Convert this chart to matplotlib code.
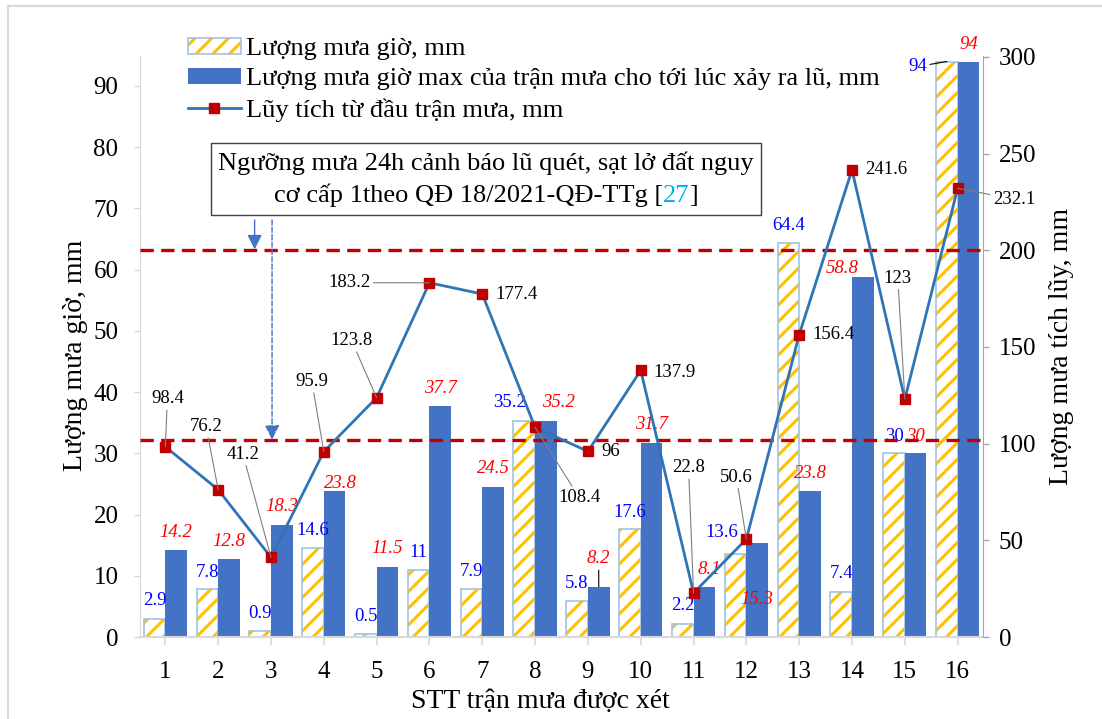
import matplotlib.pyplot as plt
import numpy as np
from matplotlib.patches import Patch, Rectangle
from matplotlib.lines import Line2D
from matplotlib.transforms import Bbox

plt.rcParams['font.family'] = ['Liberation Serif', 'DejaVu Serif']
plt.rcParams['hatch.linewidth'] = 2.2

# data
storms = np.arange(1, 17)
rain_hour = [2.9, 7.8, 0.9, 14.6, 0.5, 11, 7.9, 35.2, 5.8, 17.6, 2.2, 13.6, 64.4, 7.4, 30, 94]
rain_max = [14.2, 12.8, 18.3, 23.8, 11.5, 37.7, 24.5, 35.2, 8.2, 31.7, 8.1, 15.3, 23.8, 58.8, 30, 94]
rain_cum = [98.4, 76.2, 41.2, 95.9, 123.8, 183.2, 177.4, 108.4, 96, 137.9, 22.8, 50.6, 156.4, 241.6, 123, 232.1]
thresholds = [102, 200]

lbl_hour = "Lượng mưa giờ, mm"
lbl_max = "Lượng mưa giờ max của trận mưa cho tới lúc xảy ra lũ, mm"
lbl_cum = "Lũy tích từ đầu trận mưa, mm"
note_1 = "Ngưỡng mưa 24h cảnh báo lũ quét, sạt lở đất nguy"
note_2 = ["cơ cấp 1theo QĐ 18/2021-QĐ-TTg [", "27", "]"]

# label offsets in pixels (dx, dy)
hour_off = [(0, 19), (0, 17), (0, 18), (0, 17), (0, 17), (0, 17), (0, 17), (-15, 19),
            (0, 18), (0, 17), (0, 18), (-14, 21), (0, 17), (0, 18), (0, 17), (-29, -5)]
max_off = [(0, 18), (0, 17), (0, 18), (6, 8), (0, 18), (0, 18), (0, 19), (13, 19),
           (0, 28), (0, 18), (5, 18), (0, -56), (0, 18), (-21, 9), (0, 17), (0, 17)]
cum_off = [(2, 48, 'center', True), (-12, 63, 'center', True), (-28, 103, 'center', True),
           (-12, 70, 'center', True), (-25, 57, 'center', True), (-80, 0, 'center', True),
           (13, 0, 'left', False), (44, -70, 'center', True), (13, 0, 'left', False),
           (13, -2, 'left', False), (-5, 125, 'center', True), (-10, 62, 'center', True),
           (13, 0, 'left', False), (13, 0, 'left', False), (-7, 121, 'center', True),
           (35, -11, 'left', True)]

W, H = 1102, 719
fig = plt.figure(figsize=(W / 100, H / 100), dpi=100)
ax = fig.add_axes([140 / W, 1 - 637 / H, (983 - 140) / W, (637 - 56) / H])
ax2 = ax.twinx()

w = 0.41
ax.bar(storms - w / 2, rain_hour, w, color='white', edgecolor='#FFC000', hatch='//', linewidth=0)
ax.bar(storms - w / 2, rain_hour, w, fill=False, edgecolor='#9DC3E6', linewidth=1.2)
ax.bar(storms + w / 2, rain_max, w, color='#4472C4', linewidth=0)

for t in thresholds:
    ax2.axhline(t, color='#C00000', lw=2.4, ls=(0, (4, 2.2)), zorder=2)
ax2.plot(storms, rain_cum, color='#2E75B6', lw=2, marker='s', ms=7.5,
         mfc='#C00000', mec='#C00000', zorder=3)

fs_lbl = 13.5
for i, (x, v) in enumerate(zip(storms, rain_hour)):
    dx, dy = hour_off[i]
    ap = dict(arrowstyle='-', color='black', lw=0.8, shrinkA=0, shrinkB=0) if i == 15 else None
    ax.annotate(f"{v:g}", (x - w / 2, v), xytext=(dx, dy), textcoords='offset pixels',
                ha='center', va='center', color='#0000FF', fontsize=fs_lbl, arrowprops=ap)
for i, (x, v) in enumerate(zip(storms, rain_max)):
    dx, dy = max_off[i]
    ap = dict(arrowstyle='-', color='black', lw=0.8, shrinkA=0, shrinkB=0) if i == 8 else None
    ax.annotate(f"{v:g}", (x + w / 2, v), xytext=(dx, dy), textcoords='offset pixels',
                ha='center', va='center', color='#FF0000', fontsize=fs_lbl,
                fontstyle='italic', arrowprops=ap)
for i, (x, v) in enumerate(zip(storms, rain_cum)):
    dx, dy, ha, lead = cum_off[i]
    ap = dict(arrowstyle='-', color='#7F7F7F', lw=0.8, shrinkA=0, shrinkB=0) if lead else None
    ax2.annotate(f"{v:g}", (x, v), xytext=(dx, dy), textcoords='offset pixels',
                 ha=ha, va='center', color='black', fontsize=fs_lbl, arrowprops=ap, zorder=4)

# threshold note arrows
ax2.annotate('', xy=(2.69, 200.5), xytext=(2.69, 215.7),
             arrowprops=dict(arrowstyle='-|>', color='#4472C4', lw=1, mutation_scale=22,
                             shrinkA=0, shrinkB=0))
ax2.annotate('', xy=(3.02, 102), xytext=(3.02, 215.7),
             arrowprops=dict(arrowstyle='-|>', color='#4472C4', lw=1, ls='--',
                             mutation_scale=22, shrinkA=0, shrinkB=0))

# axes styling
ax.set_xlim(0.52, 16.48)
ax.set_ylim(0, 94.9)
ax2.set_ylim(0, 300.5)
ax.set_xticks(storms)
ax.set_yticks(np.arange(0, 91, 10))
ax2.set_yticks(np.arange(0, 301, 50))
for s in ['top', 'right']:
    ax.spines[s].set_visible(False)
for s in ['top', 'left', 'bottom']:
    ax2.spines[s].set_visible(False)
ax.spines['left'].set_color('#D9D9D9')
ax.spines['bottom'].set_color('#D9D9D9')
ax.spines['bottom'].set_linewidth(1.5)
ax2.spines['right'].set_color('#A6A6A6')
ax.tick_params(axis='x', length=6, width=1.2, color='#D9D9D9', labelsize=18, pad=11.5)
ax.tick_params(axis='y', length=4.5, width=1, color='#D9D9D9', labelsize=18, pad=11)
ax2.tick_params(axis='y', length=4.5, width=1, color='#A6A6A6', labelsize=18, pad=7)

ax.set_xlabel("STT trận mưa được xét", fontsize=20, va='center')
ax.xaxis.set_label_coords((540 - 140) / 843, (637 - 701) / 581)
ax.set_ylabel("Lượng mưa giờ, mm", fontsize=20, va='center')
ax.yaxis.set_label_coords((75 - 140) / 843, (637 - 355) / 581)
ax2.set_ylabel("Lượng mưa tích lũy, mm", fontsize=20, va='center', rotation=90)
ax2.yaxis.set_label_coords((1062 - 140) / 843, 0.5)

# legend
h_hatch = (Patch(facecolor='white', edgecolor='#FFC000', hatch='//', lw=0),
           Patch(fill=False, edgecolor='#9DC3E6', lw=1.2))
h_bar = Patch(facecolor='#4472C4')
h_line = Line2D([], [], color='#2E75B6', lw=2, marker='s', ms=7.5, mfc='#C00000', mec='#C00000')
fig.legend([h_hatch, h_bar, h_line], [lbl_hour, lbl_max, lbl_cum], loc='upper left',
           bbox_to_anchor=(188 / W, 1 - 38 / H), frameon=False, fontsize=19,
           handlelength=2.0, handleheight=0.55, handletextpad=0.2, labelspacing=0.3,
           borderpad=0, borderaxespad=0)

# note box with two-colour second line
cx = (486 - 140) / 843
t1 = ax2.text(cx, (637 - 163) / 581, note_1, transform=ax2.transAxes, ha='center',
              va='center', fontsize=19, zorder=6)
p1 = ax2.annotate(note_2[0], (cx, (637 - 195) / 581), xycoords='axes fraction',
                  xytext=(0, 0), textcoords='offset pixels', ha='left', va='center',
                  fontsize=19, zorder=6)
p2 = ax2.annotate(note_2[1], (1, 0), xycoords=p1, va='bottom', ha='left', fontsize=19,
                  color='#00B0F0', zorder=6)
p3 = ax2.annotate(note_2[2], (1, 0), xycoords=p2, va='bottom', ha='left', fontsize=19, zorder=6)
fig.canvas.draw()
r = fig.canvas.get_renderer()
x0 = p1.get_window_extent(r).x0
x1 = p3.get_window_extent(r).x1
p1.xyann = (-(x1 - x0) / 2, 0)
fig.canvas.draw()
bb = Bbox.union([t.get_window_extent(r) for t in (t1, p1, p2, p3)])
pad_x, pad_y = 7, 8
box = Bbox.from_extents(bb.x0 - pad_x, bb.y0 - pad_y, bb.x1 + pad_x, bb.y1 + pad_y)
fb = fig.transFigure.inverted().transform(box)
ax2.add_patch(Rectangle(fb[0], fb[1][0] - fb[0][0], fb[1][1] - fb[0][1],
                        transform=fig.transFigure, facecolor='white', edgecolor='#404040',
                        lw=1, zorder=5, clip_on=False))

# outer frame
fig.add_artist(Line2D([8 / W, 8 / W], [0, 1 - 6 / H], transform=fig.transFigure,
                      color='#D9D9D9', lw=1.5))
fig.add_artist(Line2D([8 / W, 1], [1 - 6 / H, 1 - 6 / H], transform=fig.transFigure,
                      color='#D9D9D9', lw=1.5))

fig.savefig('out.png', dpi=100)
